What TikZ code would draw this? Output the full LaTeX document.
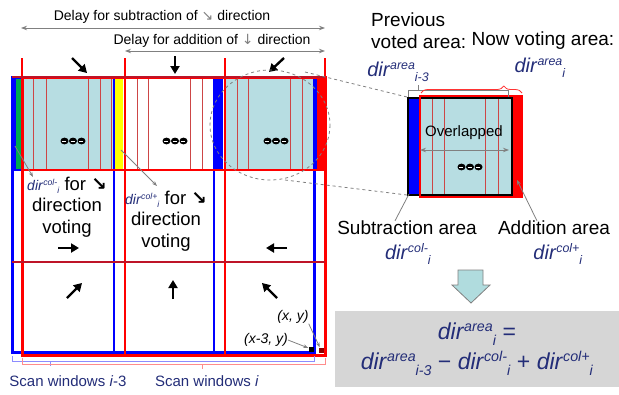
\documentclass[tikz,border=0pt]{standalone}
\usepackage{fontspec}
\usepackage{graphicx}
\setmainfont{Liberation Sans}
\newfontfamily\arrowFont{DejaVu Sans}
\usepackage{tikz}
\usetikzlibrary{arrows.meta, decorations.pathreplacing}
\tikzstyle{pixelGrid} = [x = 1pt, y = -1pt]
\definecolor{winBlue}{RGB}{0,0,255}
\definecolor{winRed}{RGB}{255,0,0}
\definecolor{rowRed}{RGB}{190,20,40}
\definecolor{areaFill}{RGB}{183,221,226}
\definecolor{stripeRed}{RGB}{205,70,70}
\definecolor{stripGreen}{RGB}{0,170,80}
\definecolor{stripYellow}{RGB}{255,255,0}
\definecolor{textNavy}{RGB}{35,45,120}
\definecolor{boxGray}{RGB}{214,214,214}
\definecolor{arrowTeal}{RGB}{176,220,222}
\definecolor{pointRed}{RGB}{140,0,0}
\tikzstyle{blueLine} = [color=winBlue, line width=1.4pt]
\tikzstyle{redLine} = [color=winRed, line width=1.4pt]
\tikzstyle{rowLine} = [color=rowRed, line width=2.6pt]
\tikzstyle{stripeLine} = [color=stripeRed, line width=1pt]
\tikzstyle{voteArrow} = [-{Triangle[length=8pt, width=9pt]}, line width=2.4pt]
\tikzstyle{delayArrow} = [{Stealth[length=6pt]}-{Stealth[length=6pt]}, color=gray, line width=1pt]
\tikzstyle{pointerLine} = [color=gray, line width=0.8pt]
\tikzstyle{pointerArrow} = [pointerLine, -{Stealth[length=5pt]}]
\tikzstyle{zoomLine} = [color=gray, dashed, line width=0.8pt]
\tikzstyle{plainText} = [inner sep=0pt, align=center]
\tikzstyle{delayText} = [plainText, font=\fontsize{14}{16}\selectfont]
\tikzstyle{cellText} = [plainText, font=\fontsize{18.5}{21.5}\selectfont]
\tikzstyle{sideText} = [plainText, font=\fontsize{19}{22}\selectfont]
\tikzstyle{dirText} = [plainText, text=textNavy, font=\fontsize{20}{22}\selectfont]
\tikzstyle{scanText} = [plainText, text=textNavy, font=\fontsize{15}{17}\selectfont]
\tikzstyle{coordText} = [plainText, font=\fontsize{14}{16}\selectfont\itshape]
\tikzstyle{pointMark} = [minimum size=5pt, inner sep=0pt, draw=none]
\tikzstyle{bracketBlue} = [color=winBlue!45, line width=0.8pt]
\tikzstyle{bracketRed} = [color=winRed!45, line width=0.8pt]
\newcommand{\dirTerm}[2]{\textit{dir}\raisebox{.36em}{\scalebox{.62}{\textit{#1}}}\raisebox{-.25em}{\scalebox{.62}{\textit{#2}}}}
\newcommand{\cellDir}[1]{{\fontsize{14}{14}\selectfont\color{textNavy}\dirTerm{#1}{i}}}
\newcommand{\slantArrow}{{\arrowFont\bfseries ↘}}
\newcommand{\windowGrid}[5]{
  \foreach \x in {#5} {
    \draw [#1] (\x, 77) -- (\x, #4);
  }
  \foreach \y in {170, 262} {
    \draw [#1] (#2, \y) -- (#3, \y);
  }
  \draw [#1, line width = 3pt] (#2, 77) rectangle (#3, #4);
}
\newcommand{\dotTriple}[2]{
  \foreach \k in {-8.5, 0, 8.5} {
    \fill (#1 + \k, #2) ellipse [x radius = 4, y radius = 3.4];
    \draw [white, line width = .8pt] (#1 + \k - 2.5, #2) -- + (4, 0);
  }
}
\newcommand{\stripes}[3]{
  \foreach \x in {#1} {
    \draw [stripeLine] (\x, #2) -- (\x, #3);
  }
}
\begin{document}
\begin{tikzpicture}[pixelGrid]
        \useasboundingbox (0,0) rectangle (619,394);

        \node[delayText] (delaySub) at (162,17) {Delay for subtraction of {\arrowFont\color{gray}↘} direction};
        \coordinate (subFrom) at (21,28);
        \coordinate (subTo) at (325,28);
        \draw[delayArrow] (subFrom) -- (subTo);
        \node[delayText] (delayAdd) at (212,41) {Delay for addition of {\arrowFont\color{gray}↓} direction};
        \coordinate (addFrom) at (125,51);
        \coordinate (addTo) at (325,51);
        \draw[delayArrow] (addFrom) -- (addTo);
        \foreach \x in {22,125,225,325} {
          \draw[redLine] (\x,58) -- (\x,77);
        }

        \fill[areaFill] (22,77) rectangle (113,170);
        \fill[areaFill] (225,77) rectangle (313,170);
        \fill[winBlue] (12,77) rectangle (16,170);
        \fill[stripGreen] (16,77) rectangle (21,170);
        \fill[stripYellow] (113,77) rectangle (123,170);
        \fill[winBlue] (213,77) rectangle (223,170);
        \fill[winBlue] (313,77) rectangle (317,170);
        \fill[winRed] (317,77) rectangle (325,170);
        \stripes{33.5,46.5,88,100,111.5}{77}{170}
        \stripes{137,148,190,202}{77}{170}
        \stripes{237,248,290,302}{77}{170}

        \windowGrid{blueLine}{12}{314}{352}{114, 214}
        \windowGrid{redLine}{22}{325}{355}{125, 225}
        \draw[rowLine] (12,262) -- (325,262);
        \draw[rowRed, line width=2.4pt] (12,77) -- (325,77);

        \draw[voteArrow] (72,58) -- (87,73);
        \draw[voteArrow] (175,56) -- (175,74);
        \draw[voteArrow] (284,58) -- (269,72);
        \draw[voteArrow] (58,248) -- (79,248);
        \draw[voteArrow] (287,248) -- (266,248);
        \draw[voteArrow] (67,298) -- (82,283);
        \draw[voteArrow] (173,299) -- (173,280);
        \draw[voteArrow] (277,298) -- (262,283);

        \dotTriple{73}{141}
        \dotTriple{175}{141}
        \dotTriple{276}{141}

        \node[cellText] (minusNote) at (67,207) {\cellDir{col-} for \slantArrow\\direction\\voting};
        \node[cellText] (plusNote) at (166,221) {\cellDir{col+} for \slantArrow\\direction\\voting};
        \coordinate (greenStrip) at (15,146);
        \coordinate (minusTip) at (33,177);
        \coordinate (yellowStrip) at (121,150);
        \coordinate (plusTip) at (157,186);
        \draw[pointerArrow] (greenStrip) -- (minusTip);
        \draw[pointerArrow] (yellowStrip) -- (plusTip);

        \node[pointMark, fill=black] (prevPoint) at (311,349) {};
        \node[pointMark, fill=pointRed] (curPoint) at (321,350) {};
        \node[coordText] (curLabel) at (293,317) {(x, y)};
        \node[coordText] (prevLabel) at (266,340) {(x-3, y)};
        \draw[pointerArrow] (curLabel.south east) -- (curPoint);
        \draw[pointerArrow] (prevLabel.east) -- (prevPoint);

        \draw[bracketBlue] (12,356) -- (12,361) -- (314,361) -- (314,356);
        \draw[bracketBlue] (50,361) -- (50,366);
        \draw[bracketRed] (22,358) -- (22,364) -- (325,364) -- (325,358);
        \draw[bracketRed] (202,364) -- (202,369);
        \node[scanText] (scanPrev) at (68,381) {Scan windows \textit{i}-3};
        \node[scanText] (scanNow) at (207,381) {Scan windows \textit{i}};

        \draw[zoomLine] (270,125) ellipse [x radius=60, y radius=55];
        \coordinate (zoomTopFrom) at (305,72);
        \coordinate (zoomTopTo) at (407,97);
        \coordinate (zoomLowFrom) at (285,180);
        \coordinate (zoomLowTo) at (407,195);
        \draw[zoomLine] (zoomTopFrom) -- (zoomTopTo);
        \draw[zoomLine] (zoomLowFrom) -- (zoomLowTo);

        \fill[areaFill] (418,97) rectangle (512,195);
        \fill[winBlue] (408,98) rectangle (419,195);
        \fill[winRed] (512,97) rectangle (522,197);
        \stripes{432,444,485,498}{97}{195}
        \draw[black, line width=1.6pt] (408,98) rectangle (512,195);
        \draw[winRed, line width=2.6pt] (420,96) rectangle (522,197);
        \draw[gray, line width=0.8pt] (408,97) -- (408,90) -- (508,90) -- (508,97);
        \draw[gray, line width=0.8pt] (418,90) -- (418,85);
        \draw[winRed!80, line width=0.8pt, decorate, decoration={brace, amplitude=7pt, aspect=0.82}] (421,93) -- (522,93);
        \node[plainText, font=\fontsize{15}{17}\selectfont] (overlapText) at (464,133) {Overlapped};
        \coordinate (overlapFrom) at (420,150);
        \coordinate (overlapTo) at (509,150);
        \draw[delayArrow] (overlapFrom) -- (overlapTo);
        \dotTriple{470}{167}

        \node[sideText, anchor=west, align=left] (prevArea) at (371,31) {Previous\\voted area:};
        \node[sideText] (nowArea) at (543,41) {Now voting area:};
        \node[dirText] (prevDir) at (398,72) {\dirTerm{area}{i-3}};
        \node[dirText] (nowDir) at (540,68) {\dirTerm{area}{i}};

        \node[sideText] (subArea) at (407,228) {Subtraction area};
        \node[sideText] (addArea) at (554,228) {Addition area};
        \node[dirText] (subDir) at (408,254) {\dirTerm{col-}{i}};
        \node[dirText] (addDir) at (558,254) {\dirTerm{col+}{i}};
        \coordinate (subStrip) at (409,194);
        \coordinate (addStrip) at (517,180);
        \draw[pointerLine] ([xshift=-12pt]subArea.north) -- (subStrip);
        \draw[pointerArrow] ([xshift=-17pt]addArea.north) -- (addStrip);

        \draw[fill=arrowTeal, draw=gray, line width=0.8pt] (458,270) -- (483,270) -- (483,285) -- (490,285) -- (471,303) -- (452,285) -- (458,285) -- cycle;
        \node[plainText, fill=boxGray, text=textNavy, minimum width=285pt, minimum height=76pt, font=\fontsize{23}{30}\selectfont] (formula) at (477,349) {\dirTerm{area}{i} =\\\dirTerm{area}{i-3} − \dirTerm{col-}{i} + \dirTerm{col+}{i}};
      \end{tikzpicture}
\end{document}
